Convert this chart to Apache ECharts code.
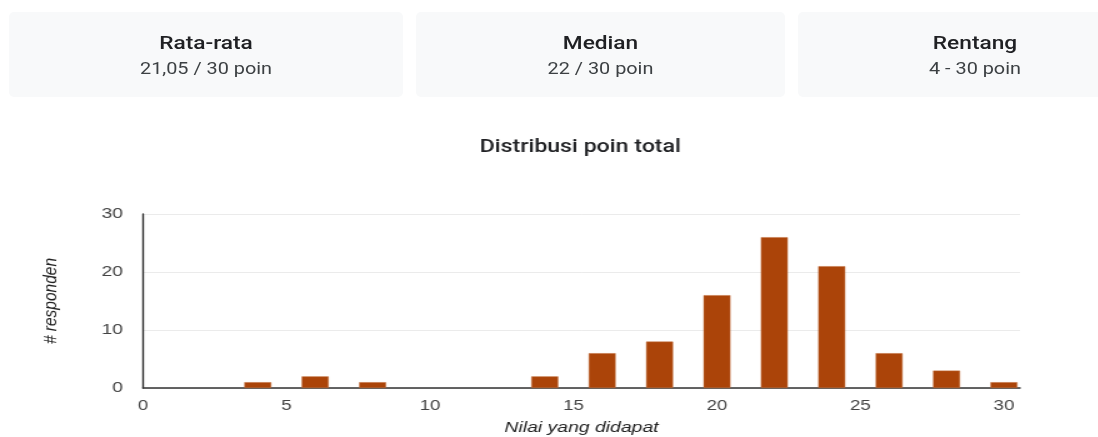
<!DOCTYPE html>
<html>
<head>
<meta charset="utf-8">
<script src="https://cdn.jsdelivr.net/npm/echarts@6/dist/echarts.min.js"></script>
<style>
  html, body { margin: 0; padding: 0; background: #fff; overflow: hidden; width: 1098px; height: 437px; }
  #chart { position: absolute; left: 0; top: 0; width: 878.4px; height: 437px;
           transform: scaleX(1.25); transform-origin: 0 0; }
  .card { position: absolute; top: 12px; height: 85px; background: #f8f9fa; border-radius: 5px;
          font-family: Roboto, "Noto Sans", sans-serif; text-align: center; }
  .card .t { position: absolute; left: 0; right: 0; top: 20px; font-size: 18px; font-weight: 500; color: #202124;
             transform: scaleX(1.26); transform-origin: 50% 50%; }
  .card .v { position: absolute; left: 0; right: 0; top: 47px; font-size: 16px; color: #3c4043;
             transform: scaleX(1.24); transform-origin: 50% 50%; }
</style>
</head>
<body>
<div id="chart"></div>
<div id="cards"></div>
<script>
const statTitles = ["Rata-rata", "Median", "Rentang"];
const statValues = ["21,05 / 30 poin", "22 / 30 poin", "4 - 30 poin"];
const scores = [4, 6, 8, 14, 16, 18, 20, 22, 24, 26, 28, 30];
const counts = [1, 2, 1, 2, 6, 8, 16, 26, 21, 6, 3, 1];
const chartTitle = "Distribusi poin total";
const xName = "Nilai yang didapat";
const yName = "# responden";

const cardBoxes = [[9, 394], [416, 369], [798, 354]];
const cardsEl = document.getElementById('cards');
statTitles.forEach((t, i) => {
  const d = document.createElement('div');
  d.className = 'card';
  d.style.left = cardBoxes[i][0] + 'px';
  d.style.width = cardBoxes[i][1] + 'px';
  d.innerHTML = '<div class="t"></div><div class="v"></div>';
  d.querySelector('.t').textContent = t;
  d.querySelector('.v').textContent = statValues[i];
  cardsEl.appendChild(d);
});

// chart drawn in a narrower box and stretched horizontally by 1.25 (reference is stretched)
const S = 1.25;
const chart = echarts.init(document.getElementById('chart'), null, { renderer: 'canvas', width: 1098 / S, height: 437 });
chart.setOption({
  backgroundColor: 'transparent',
  animation: false,
  title: {
    text: chartTitle,
    left: 574 / S, top: 133, textAlign: 'center',
    textStyle: { fontFamily: 'Roboto, sans-serif', fontSize: 18.5, fontWeight: 500, color: '#202124' }
  },
  grid: { left: 143 / S, right: 78 / S, top: 214, bottom: 49, containLabel: false },
  xAxis: {
    type: 'value', min: 0, max: 30.56, interval: 5,
    name: xName, nameLocation: 'middle', nameGap: 32,
    nameTextStyle: { fontFamily: 'Liberation Sans, Arial, sans-serif', fontSize: 15.5, fontStyle: 'italic', color: '#222' },
    axisLine: { show: true, onZero: false, lineStyle: { color: '#333', width: 1.5 } },
    axisTick: { show: false },
    splitLine: { show: false },
    axisLabel: {
      margin: 10, fontFamily: 'Liberation Sans, Arial, sans-serif', fontSize: 15, color: '#444',
      formatter: v => (Math.abs(v % 5) < 1e-9 ? String(v) : '')
    }
  },
  yAxis: {
    type: 'value', min: 0, max: 30, interval: 10,
    name: yName, nameLocation: 'middle', nameGap: 66, nameRotate: 90,
    nameTextStyle: { fontFamily: 'Liberation Sans, Arial, sans-serif', fontSize: 15.5, fontStyle: 'italic', color: '#222' },
    axisLine: { show: true, lineStyle: { color: '#333', width: 1.4 } },
    axisTick: { show: false },
    splitLine: { lineStyle: { color: '#ebebeb', width: 1 } },
    axisLabel: { margin: 16, fontFamily: 'Liberation Sans, Arial, sans-serif', fontSize: 15.5, color: '#444' }
  },
  series: [{
    type: 'bar',
    barWidth: 27 / S,
    data: scores.map((s, i) => [s, counts[i]]),
    itemStyle: { color: '#ab4409', borderColor: '#c2703f', borderWidth: 0.5 }
  }]
});
</script>
</body>
</html>
